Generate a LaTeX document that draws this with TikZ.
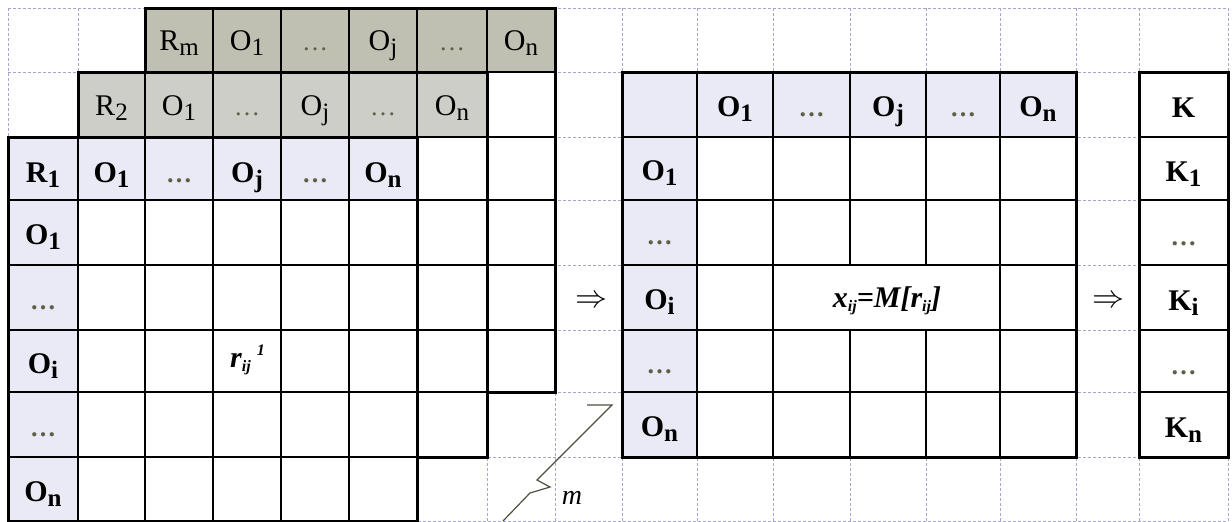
\documentclass[tikz,border=0pt]{standalone}
\usepackage{fontspec}
\setmainfont{Liberation Serif}
\definecolor{bgline}{RGB}{165,165,205}
\definecolor{shadeM}{RGB}{192,192,178}
\definecolor{shadeB}{RGB}{206,206,200}
\definecolor{shadeA}{RGB}{234,234,246}
\definecolor{dotc}{RGB}{95,95,70}
\definecolor{zigc}{RGB}{80,80,65}
\newcommand\sub[1]{\raisebox{-5pt}{\fontsize{25}{25}\selectfont #1}}
\newcommand\dts{{\color{dotc}\fontsize{26}{26}\selectfont\dots}}
\newcommand\sml[1]{\raisebox{-4pt}{\fontsize{16}{16}\selectfont #1}}
\newcommand\bigimpl{\scalebox{3.2}{$\Rightarrow$}}
\tikzset{
  bggrid/.style={draw=bgline, line width=0.8pt, dash pattern=on 3pt off 2pt},
  inl/.style={draw=black, line width=1.3pt},
  mf/.style={draw=black, line width=3pt},
  bt/.style={font=\fontsize{30}{30}\selectfont\bfseries, anchor=base, inner sep=0pt},
  rt/.style={font=\fontsize{30}{30}\selectfont, anchor=base, inner sep=0pt},
  zig/.style={draw=zigc, line width=1.2pt},
  impl/.style={inner sep=0pt},
}
\begin{document}
\begin{tikzpicture}[x=1pt,y=-1pt]
\useasboundingbox (0,0) rectangle (1232,522);
\fill[white] (0,0) rectangle (1232,522);
% grid coordinates
\foreach \i/\x in {0/8,1/78,2/145,3/213,4/281,5/349,6/417,7/487,8/555,9/622,10/697,11/773,12/850,13/926,14/1000,15/1076,16/1139,17/1228}{
  \foreach \j/\y in {0/8,1/72,2/137,3/200,4/265,5/330,6/392,7/457,8/521}{
    \coordinate (p\i-\j) at (\x,\y);
  }
}
% background dashed grid
\foreach \i in {0,...,17} \draw[bggrid] (p\i-0) -- (p\i-8);
\foreach \j in {0,...,8} \draw[bggrid] (p0-\j) -- (p17-\j);

% layer m
\fill[white] (p2-0) rectangle (p8-6);
\fill[shadeM] (p2-0) rectangle (p8-1);
\foreach \i in {3,...,7} \draw[inl] (p\i-0) -- (p\i-6);
\foreach \j in {1,...,5} \draw[inl] (p2-\j) -- (p8-\j);
\draw[mf] (p2-0) rectangle (p8-6);

% layer 2
\fill[white] (p1-1) rectangle (p7-7);
\fill[shadeB] (p1-1) rectangle (p7-2);
\foreach \i in {2,...,6} \draw[inl] (p\i-1) -- (p\i-7);
\foreach \j in {2,...,6} \draw[inl] (p1-\j) -- (p7-\j);
\draw[mf] (p1-1) rectangle (p7-7);

% layer 1
\fill[white] (p0-2) rectangle (p6-8);
\fill[shadeA] (p0-2) rectangle (p6-3);
\fill[shadeA] (p0-2) rectangle (p1-8);
\foreach \i in {1,...,5} \draw[inl] (p\i-2) -- (p\i-8);
\foreach \j in {3,...,7} \draw[inl] (p0-\j) -- (p6-\j);
\draw[mf] (p0-2) rectangle (p6-8);

% result matrix
\fill[white] (p9-1) rectangle (p15-7);
\fill[shadeA] (p9-1) rectangle (p15-2);
\fill[shadeA] (p9-1) rectangle (p10-7);
\foreach \i in {10,11,14} \draw[inl] (p\i-1) -- (p\i-7);
\foreach \i in {12,13} {\draw[inl] (p\i-1) -- (p\i-4); \draw[inl] (p\i-5) -- (p\i-7);}
\foreach \j in {2,...,6} \draw[inl] (p9-\j) -- (p15-\j);
\draw[mf] (p9-1) rectangle (p15-7);

% K column
\fill[white] (p16-1) rectangle (p17-7);
\foreach \j in {2,...,6} \draw[inl] (p16-\j) -- (p17-\j);
\draw[mf] (p16-1) rectangle (p17-7);

% texts: layer m header
\foreach \x/\t [count=\k] in {179/R\sub{m}, 247/O\sub{1}, 315/\dts, 383/O\sub{j}, 452/\dts, 521/O\sub{n}}
  \node[rt] (hm\k) at (\x,50) {\t};
% layer 2 header
\foreach \x/\t [count=\k] in {111.5/R\sub{2}, 179/O\sub{1}, 247/\dts, 315/O\sub{j}, 383/\dts, 452/O\sub{n}}
  \node[rt] (hb\k) at (\x,115) {\t};
% layer 1 header
\foreach \x/\t [count=\k] in {43/R\sub{1}, 111.5/O\sub{1}, 179/\dts, 247/O\sub{j}, 315/\dts, 383/O\sub{n}}
  \node[bt] (ha\k) at (\x,182) {\t};
% layer 1 rows
\foreach \y/\t [count=\k] in {232.5/O\sub{1}, 297.5/\dts, 361/O\sub{i}, 424.5/\dts, 489/O\sub{n}}
  \node[bt] (ra\k) at (43,\y+12) {\t};
% result header
\foreach \x/\t [count=\k] in {735/O\sub{1}, 811.5/\dts, 888/O\sub{j}, 963/\dts, 1038/O\sub{n}}
  \node[bt] (hr\k) at (\x,116.5) {\t};
% result rows
\foreach \y/\t [count=\k] in {168.5/O\sub{1}, 232.5/\dts, 297.5/O\sub{i}, 361/\dts, 424.5/O\sub{n}}
  \node[bt] (rr\k) at (659.5,\y+12) {\t};
% K column
\foreach \y/\t [count=\k] in {104.5/K, 168.5/K\sub{1}, 232.5/\dts, 297.5/K\sub{i}, 361/\dts, 424.5/K\sub{n}}
  \node[bt] (kk\k) at (1183.5,\y+13) {\t};

% cell formulas
\node[anchor=base west, inner sep=0pt, font=\fontsize{30}{30}\selectfont\bfseries\itshape] (rij) at (230,367)
  {r\sml{ij}\hspace{6pt}\raisebox{12pt}{\fontsize{16}{16}\selectfont 1}};
\node[anchor=base, inner sep=0pt, font=\fontsize{30}{30}\selectfont\bfseries\itshape] (xij) at (887,307)
  {x\sml{ij}=M[r\sml{ij}]};

% implication arrows
\node[impl] (ar1) at (591,302) {\bigimpl};
\node[impl] (ar2) at (1108,302) {\bigimpl};

% zigzag and m label
\coordinate (z1) at (587,405);
\coordinate (z2) at (612,405);
\coordinate (z3) at (537,480);
\coordinate (z4) at (550,487);
\coordinate (z5) at (530,493);
\coordinate (z6) at (503,521);
\draw[zig] (z1) -- (z2) -- (z3) -- (z4) -- (z5) -- (z6);
\node[anchor=base, inner sep=0pt, font=\fontsize{28}{28}\selectfont\itshape] (mlab) at (572,504) {m};
\end{tikzpicture}
\end{document}
